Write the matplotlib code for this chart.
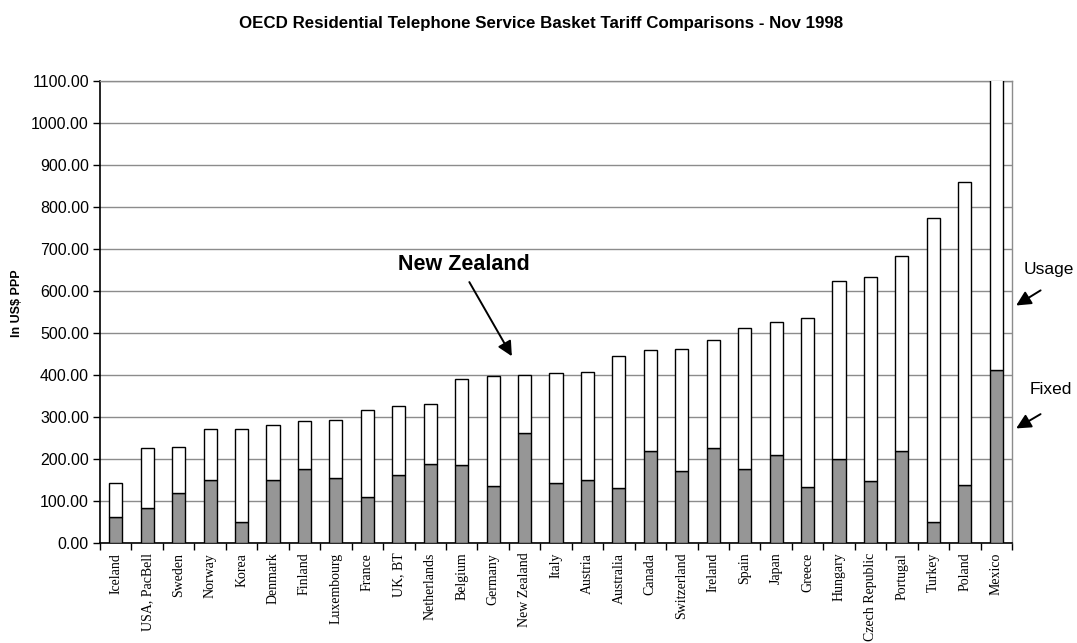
import matplotlib
matplotlib.use('Agg')
import matplotlib.pyplot as plt
import numpy as np

# OECD residential basket, Nov 1998 (US$ PPP)
countries = ['Iceland', 'USA, PacBell', 'Sweden', 'Norway', 'Korea', 'Denmark',
             'Finland', 'Luxembourg', 'France', 'UK, BT', 'Netherlands', 'Belgium',
             'Germany', 'New Zealand', 'Italy', 'Austria', 'Australia', 'Canada',
             'Switzerland', 'Ireland', 'Spain', 'Japan', 'Greece', 'Hungary',
             'Czech Republic', 'Portugal', 'Turkey', 'Poland', 'Mexico']
fixed = [61, 83, 118, 149, 49, 151, 176, 155, 110, 163, 189, 186, 135, 263, 143,
         151, 131, 219, 171, 227, 177, 210, 134, 199, 147, 218, 51, 139, 413]
total = [143, 226, 228, 271, 272, 280, 290, 292, 317, 326, 332, 391, 398, 399, 405,
         406, 446, 459, 462, 484, 513, 526, 535, 624, 633, 684, 775, 859, 1330]
usage = [t - f for t, f in zip(total, fixed)]

plt.rcParams['font.family'] = ['Liberation Sans', 'DejaVu Sans']

fig = plt.figure(figsize=(10.77, 6.43), dpi=100)
ax = fig.add_axes([0.0929, 0.1555, 0.8467, 0.7185])

x = np.arange(len(countries))
w = 0.42
ax.bar(x, fixed, w, color='#969696', edgecolor='black', linewidth=1.0, zorder=3)
ax.bar(x, usage, w, bottom=fixed, color='white', edgecolor='black', linewidth=1.0, zorder=3)

ax.set_xlim(-0.5, len(countries) - 0.5)
ax.set_ylim(0, 1100)
ax.set_yticks(np.arange(0, 1101, 100))
ax.set_yticklabels([f'{v:.2f}' for v in np.arange(0, 1101, 100)], fontsize=11.5)
ax.yaxis.grid(True, color='#8c8c8c', linewidth=1.0, zorder=0)
ax.tick_params(axis='y', direction='out', length=5, width=1, pad=3)

ax.set_xticks(x)
ax.set_xticklabels(countries, rotation=90, fontsize=10, family='Liberation Serif')
ax.tick_params(axis='x', which='major', length=0, pad=7)
ax.set_xticks(np.arange(-0.5, len(countries), 1), minor=True)
ax.tick_params(axis='x', which='minor', direction='out', length=5, width=1)

for side in ['left', 'bottom']:
    ax.spines[side].set_color('black')
    ax.spines[side].set_linewidth(1.2)
for side in ['top', 'right']:
    ax.spines[side].set_color('#8c8c8c')
    ax.spines[side].set_linewidth(1.0)

ax.set_ylabel('In US$ PPP', fontsize=9, fontweight='bold')
ax.yaxis.set_label_coords(-0.085, 0.52)

fig.suptitle('OECD Residential Telephone Service Basket Tariff Comparisons - Nov 1998',
             fontsize=12.2, fontweight='bold', x=0.502, y=0.975)

arrow = dict(arrowstyle='-|>', color='black', lw=1.4, mutation_scale=22)

# New Zealand callout
ax.annotate('', xy=(12.64, 439), xytext=(11.2, 627), arrowprops=arrow, zorder=5)
ax.text(11.08, 662, 'New Zealand', fontsize=15.5, fontweight='bold', ha='center', va='center')

# Usage / Fixed labels outside the plot
ax.annotate('', xy=(1.002, 0.511), xytext=(1.034, 0.550), xycoords='axes fraction',
            arrowprops=arrow, annotation_clip=False)
ax.text(1.0406, 0.592, 'Usage', transform=ax.transAxes, fontsize=12.5, ha='center', va='center')
ax.annotate('', xy=(1.002, 0.245), xytext=(1.034, 0.282), xycoords='axes fraction',
            arrowprops=arrow, annotation_clip=False)
ax.text(1.043, 0.332, 'Fixed', transform=ax.transAxes, fontsize=12.5, ha='center', va='center')

fig.savefig('out.png', dpi=100)
